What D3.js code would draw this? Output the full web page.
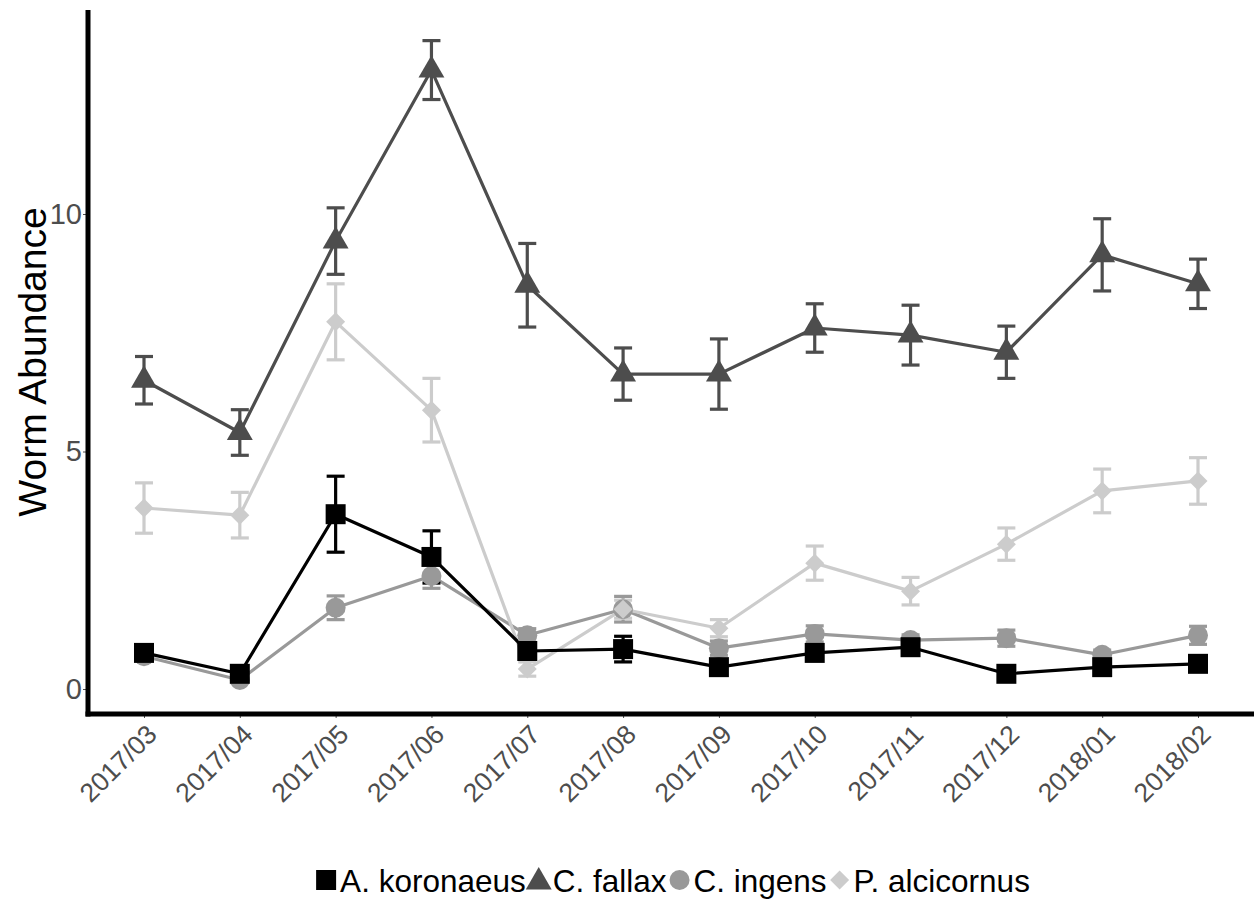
<!DOCTYPE html>
<html>
<head>
<meta charset="utf-8">
<script src="https://cdn.jsdelivr.net/npm/d3@7"></script>
<style>
  html, body { margin: 0; padding: 0; background: #ffffff; }
  svg { display: block; }
  text { font-family: "Liberation Sans", Arial, Helvetica, sans-serif; }
</style>
</head>
<body>
<svg id="chart" width="1254" height="901"></svg>
<script>
// Sampling months
const months = ["2017/03","2017/04","2017/05","2017/06","2017/07","2017/08",
                "2017/09","2017/10","2017/11","2017/12","2018/01","2018/02"];

// Mean abundance per species
const koronaeusMean = [0.76, 0.32, 3.68, 2.78, 0.80, 0.84, 0.46, 0.76, 0.88, 0.32, 0.46, 0.53];
const fallaxMean    = [6.50, 5.40, 9.43, 13.03, 8.50, 6.63, 6.63, 7.60, 7.45, 7.09, 9.14, 8.53];
const ingensMean    = [0.69, 0.19, 1.71, 2.38, 1.13, 1.68, 0.86, 1.16, 1.03, 1.07, 0.72, 1.13];
const alcicornusMean= [3.81, 3.66, 7.73, 5.87, 0.42, 1.68, 1.28, 2.65, 2.06, 3.05, 4.17, 4.38];

// Standard error per species
const koronaeusSE = [0.06, 0.05, 0.80, 0.55, 0.08, 0.27, 0.06, 0.08, 0.12, 0.05, 0.06, 0.06];
const fallaxSE    = [0.50, 0.48, 0.70, 0.62, 0.88, 0.55, 0.74, 0.51, 0.63, 0.55, 0.76, 0.52];
const ingensSE    = [0.05, 0.05, 0.25, 0.26, 0.14, 0.27, 0.15, 0.17, 0.11, 0.17, 0.10, 0.19];
const alcicornusSE= [0.53, 0.48, 0.80, 0.67, 0.15, 0.19, 0.18, 0.36, 0.29, 0.34, 0.46, 0.49];

const speciesNames = ["A. koronaeus", "C. fallax", "C. ingens", "P. alcicornus"];
const yTicks = [0, 5, 10];

const series = [
  { name: speciesNames[0], mean: koronaeusMean,  se: koronaeusSE,  color: "#000000", shape: "square" },
  { name: speciesNames[1], mean: fallaxMean,     se: fallaxSE,     color: "#4d4d4d", shape: "triangle" },
  { name: speciesNames[2], mean: ingensMean,     se: ingensSE,     color: "#999999", shape: "circle" },
  { name: speciesNames[3], mean: alcicornusMean, se: alcicornusSE, color: "#cccccc", shape: "diamond" }
];
// Painting order: lighter groups underneath, black on top
const drawOrder = [2, 3, 1, 0].map(i => series[i]);

const svg = d3.select("#chart");

const axisX0 = 88, axisY0 = 714;
const x = d3.scalePoint().domain(months).range([144, 1198]);
const y = d3.scaleLinear().domain([0, 10]).range([689, 214]);

function symbolPath(shape) {
  if (shape === "square") return d3.symbol(d3.symbolSquare, 400)();
  if (shape === "triangle") return d3.symbol(d3.symbolTriangle, 290)();
  if (shape === "circle") return d3.symbol(d3.symbolCircle, Math.PI * 100)();
  // diamond: square rotated 45 degrees
  const h = 9.5;
  return `M0,${-h}L${h},0L0,${h}L${-h},0Z`;
}

// Lines
const line = d3.line().x((d, i) => x(months[i])).y(d => y(d));
const gLines = svg.append("g");
drawOrder.forEach(s => {
  gLines.append("path")
    .attr("d", line(s.mean))
    .attr("fill", "none")
    .attr("stroke", s.color)
    .attr("stroke-width", 3.2)
    .attr("stroke-linejoin", "round");
});

// Error bars
const capHalf = 9;
const gErr = svg.append("g");
drawOrder.forEach(s => {
  const g = gErr.append("g").attr("stroke", s.color).attr("stroke-width", 3.2).attr("fill", "none");
  s.mean.forEach((m, i) => {
    const cx = x(months[i]);
    const top = y(m + s.se[i]), bot = y(m - s.se[i]);
    g.append("line").attr("x1", cx).attr("x2", cx).attr("y1", top).attr("y2", bot);
    g.append("line").attr("x1", cx - capHalf).attr("x2", cx + capHalf).attr("y1", top).attr("y2", top);
    g.append("line").attr("x1", cx - capHalf).attr("x2", cx + capHalf).attr("y1", bot).attr("y2", bot);
  });
});

// Points
const gPts = svg.append("g");
drawOrder.forEach(s => {
  gPts.append("g").selectAll("path")
    .data(s.mean)
    .join("path")
    .attr("d", symbolPath(s.shape))
    .attr("transform", (d, i) => `translate(${x(months[i])},${y(d)})`)
    .attr("fill", s.color);
});

// Y axis
const yAxis = d3.axisLeft(y).tickValues(yTicks).tickSize(3).tickPadding(1).tickFormat(d3.format("d"));
const gy = svg.append("g").attr("transform", `translate(${axisX0 - 2},0)`).call(yAxis);
gy.select(".domain").remove();
gy.selectAll(".tick line").attr("stroke", "#4d4d4d").attr("stroke-width", 1);
gy.selectAll(".tick text").attr("fill", "#4d4d4d").attr("font-size", 29)
  .attr("font-family", "Liberation Sans, Arial, sans-serif");

// X axis
const xAxis = d3.axisBottom(x).tickSize(4).tickPadding(0);
const gx = svg.append("g").attr("transform", `translate(0,${axisY0})`).call(xAxis);
gx.select(".domain").remove();
gx.selectAll(".tick line").attr("stroke", "#4d4d4d").attr("stroke-width", 1);
gx.selectAll(".tick text")
  .attr("fill", "#4d4d4d")
  .attr("font-size", 26.5)
  .attr("font-family", "Liberation Sans, Arial, sans-serif")
  .attr("text-anchor", "end")
  .attr("dy", null)
  .attr("y", 0)
  .attr("transform", "translate(14,22) rotate(-45)");

// Axis lines
svg.append("line").attr("x1", axisX0).attr("x2", axisX0).attr("y1", 10).attr("y2", axisY0 + 2.5)
  .attr("stroke", "#000").attr("stroke-width", 5);
svg.append("line").attr("x1", axisX0 - 2.5).attr("x2", 1254).attr("y1", axisY0).attr("y2", axisY0)
  .attr("stroke", "#000").attr("stroke-width", 5);

// Y axis title
svg.append("text")
  .attr("transform", "translate(46,362) rotate(-90)")
  .attr("text-anchor", "middle")
  .attr("font-size", 39)
  .attr("fill", "#000")
  .text("Worm Abundance");

// Legend
const legend = svg.append("g");
const legendY = 880;
let cursor = 0;
series.forEach(s => {
  const it = legend.append("g");
  it.append("path").attr("d", symbolPath(s.shape)).attr("fill", s.color)
    .attr("transform", `translate(10,${s.shape === "triangle" ? 2 : 0})`);
  const t = it.append("text").attr("x", 24).attr("y", 11.5).attr("font-size", 31.5).attr("fill", "#000").text(s.name);
  const w = 24 + t.node().getComputedTextLength();
  it.attr("transform", `translate(${cursor},${legendY})`);
  cursor += w + 3;
});
const totalW = cursor - 3;
legend.attr("transform", `translate(${(316 + 1030) / 2 - totalW / 2},0)`);
</script>
</body>
</html>
